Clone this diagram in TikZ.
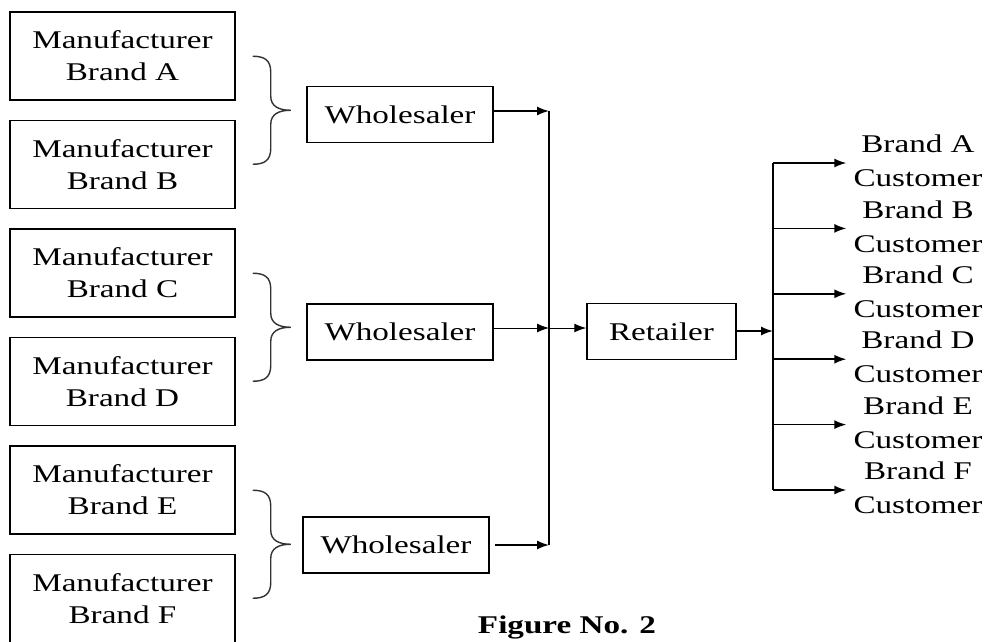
\documentclass[tikz,border=0pt]{standalone}
\usepackage{fontspec}
\setmainfont{Liberation Serif}[FakeStretch=1.3]
\usetikzlibrary{positioning}
\usetikzlibrary{arrows.meta}
\usetikzlibrary{calc}
\tikzset{
	chnnode/.style = {align=center, inner sep=0pt, text centered,
		font=\fontsize{25.5}{32}\selectfont},
	chn_m/.style = {chnnode, rectangle, draw=black, line width=1.5pt,
		minimum width=225pt, minimum height=88pt},% chain, manufacturer
	chn_w/.style = {chnnode, rectangle, draw=black, line width=1.5pt,
		minimum width=186pt, minimum height=56pt},% chain, wholesaler
	chn_c/.style = {chnnode, font=\fontsize{25.5}{34}\selectfont},% chain, customer
	brc/.style = {line width=1.4pt, black!80},
	grpbrace/.pic = {
		\draw[brc] (0,-54) .. controls (12,-54) and (18,-50) .. (18,-38)
			-- (18,-14) .. controls (18,-4) and (26,0) .. (38,0)
			.. controls (26,0) and (18,4) .. (18,14)
			-- (18,38) .. controls (18,50) and (12,54) .. (0,54);
	}% brace over two manufacturers
}
\begin{document}
\begin{tikzpicture}[x=1pt,y=-1pt,>={Latex[length=12pt,width=9pt]},
		line width=1.5pt]
	\useasboundingbox (0,0) rectangle (989,641);
	\node [chn_m] (ma) at (122.5,56) {Manufacturer\\Brand A};
	\node [chn_m,below=19pt of ma] (mb) {Manufacturer\\Brand B};
	\node [chn_m,below=19pt of mb] (mc) {Manufacturer\\Brand C};
	\node [chn_m,below=19pt of mc] (md) {Manufacturer\\Brand D};
	\node [chn_m,below=19pt of md] (me) {Manufacturer\\Brand E};
	\node [chn_m,below=19pt of me] (mf) {Manufacturer\\Brand F};
	
	\pic at ($(ma.east)!0.5!(mb.east)+(17,0)$) {grpbrace};
	\pic at ($(mc.east)!0.5!(md.east)+(17,0)$) {grpbrace};
	\pic at ($(me.east)!0.5!(mf.east)+(17,0)$) {grpbrace};
	
	\node [chn_w] (wa) at (400,114.5) {Wholesaler};
	\node [chn_w] (wb) at (400,332) {Wholesaler};
	\node [chn_w] (wc) at (396,545) {Wholesaler};
	\node [chn_w,minimum width=149pt] (rt) at (661.5,331.5) {Retailer};
	
	\coordinate (ja) at (549,111);
	\coordinate (jb) at (549,328);
	\coordinate (jc) at (549,545);
	\coordinate (kr) at (773,331);
	\coordinate (ka) at (773,163);
	\coordinate (kf) at (773,490);
	
	\draw [->] (wa.east |- ja) -- (ja);
	\draw [->,line width=1pt] (wb.east |- jb) -- (jb);
	\draw [->] ($(wc.east)+(5,0)$) -- (jc);
	\draw (ja) -- (jc);
	\draw [->,line width=1pt] (jb) -- (rt.west |- jb);
	\draw [->] (rt.east |- kr) -- (kr);
	\draw (ka) -- (kf);
	
	\foreach \brand [count=\i from 0] in {A,B,C,D,E,F}{
		\node [chn_c] (cu\i) at (918,161+65.4*\i) {Brand \brand\\Customer};
		\coordinate (kc\i) at (773,163+65.4*\i);
		\draw [->,shorten >=6.5pt] (kc\i) -- (kc\i -| cu\i.west);
	}
	
	\node [chnnode,font=\fontsize{25.5}{30}\selectfont\bfseries,anchor=base]
		(fig) at (567,633) {Figure No. 2};
\end{tikzpicture}
\end{document}
